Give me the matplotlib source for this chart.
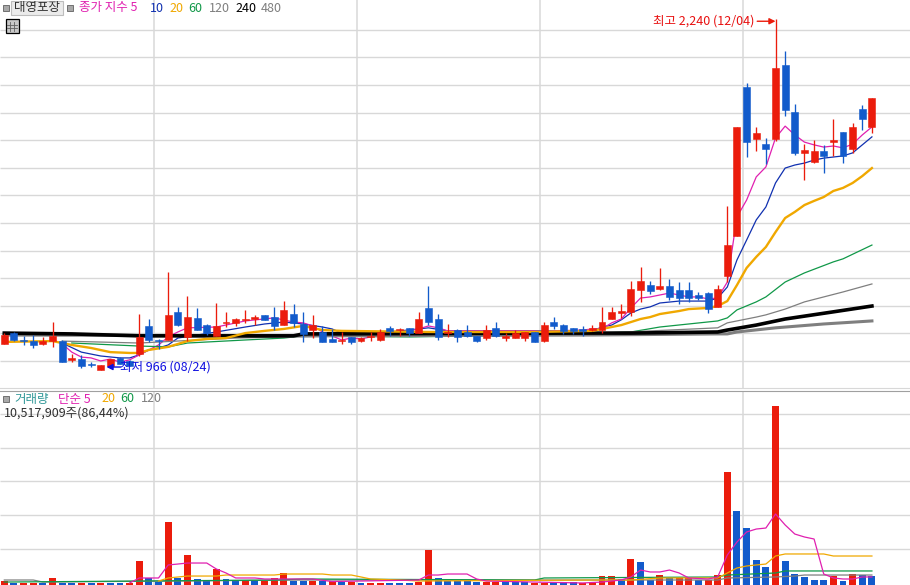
#!/usr/bin/env python3
import matplotlib
matplotlib.use('Agg')
import matplotlib.pyplot as plt
from matplotlib.lines import Line2D
from matplotlib.patches import Rectangle

W, H = 910, 585
plt.rcParams['font.family'] = ['Noto Sans CJK KR', 'DejaVu Sans']

RED = '#EB1C0C'
BLUE = '#125BCB'
GRID = '#D8D8D8'

# ── daily prices ─────────────────────────────────────────────────────────────
opens = [1062, 1101, 1076, 1072, 1062, 1072, 1072, 1004, 1007, 989, 966, 982, 1011, 1000, 1025,
         1127, 1076, 1076, 1178, 1087, 1156, 1130, 1091, 1138, 1138, 1149, 1152, 1167, 1159, 1130,
         1170, 1134, 1112, 1105, 1080, 1072, 1087, 1072, 1087, 1076, 1120, 1112, 1120, 1101, 1192,
         1152, 1101, 1112, 1105, 1091, 1083, 1120, 1083, 1083, 1083, 1105, 1072, 1141, 1130, 1120,
         1116, 1112, 1112, 1152, 1174, 1178, 1257, 1275, 1261, 1272, 1257, 1257, 1239, 1246, 1196,
         1308, 1453, 1993, 1804, 1786, 1804, 2072, 1902, 1754, 1721, 1761, 1793, 1830, 1768, 1913,
         1848]
highs = [1101, 1105, 1091, 1094, 1087, 1141, 1076, 1025, 1022, 996, 986, 1007, 1014, 1004, 1170,
         1152, 1080, 1322, 1196, 1236, 1192, 1134, 1210, 1178, 1156, 1185, 1167, 1167, 1196, 1217,
         1207, 1178, 1167, 1127, 1116, 1105, 1087, 1087, 1105, 1116, 1127, 1120, 1120, 1178, 1272,
         1170, 1134, 1116, 1130, 1091, 1130, 1141, 1101, 1112, 1105, 1105, 1141, 1159, 1134, 1120,
         1127, 1130, 1196, 1196, 1207, 1290, 1341, 1290, 1337, 1297, 1286, 1286, 1250, 1250, 1275,
         1562, 1848, 2007, 1848, 1808, 2240, 2123, 1931, 1786, 1801, 1783, 1877, 1830, 1862, 1928,
         1953]
lows = [1062, 1072, 1058, 1047, 1058, 1051, 996, 996, 975, 978, 966, 982, 989, 982, 1018,
        1069, 1043, 1076, 1127, 1072, 1112, 1094, 1091, 1123, 1127, 1138, 1130, 1149, 1112, 1130,
        1123, 1069, 1083, 1069, 1069, 1062, 1062, 1069, 1072, 1072, 1091, 1091, 1091, 1101, 1130,
        1076, 1087, 1069, 1087, 1069, 1076, 1087, 1072, 1083, 1072, 1069, 1069, 1116, 1098, 1098,
        1091, 1109, 1101, 1152, 1156, 1163, 1214, 1243, 1257, 1221, 1207, 1214, 1221, 1174, 1196,
        1286, 1453, 1739, 1761, 1714, 1797, 1888, 1746, 1656, 1717, 1681, 1743, 1717, 1754, 1837,
        1826]
closes = [1094, 1076, 1072, 1058, 1072, 1091, 996, 1011, 982, 986, 986, 1007, 989, 982, 1087,
          1076, 1072, 1167, 1130, 1159, 1112, 1101, 1127, 1141, 1152, 1152, 1159, 1149, 1127, 1185,
          1138, 1098, 1130, 1069, 1069, 1076, 1069, 1083, 1091, 1105, 1109, 1116, 1101, 1152, 1141,
          1087, 1105, 1087, 1091, 1072, 1112, 1091, 1091, 1101, 1105, 1069, 1130, 1127, 1109, 1109,
          1109, 1120, 1141, 1178, 1181, 1261, 1290, 1254, 1272, 1232, 1228, 1228, 1228, 1188, 1261,
          1420, 1848, 1793, 1826, 1768, 2062, 1909, 1754, 1764, 1761, 1743, 1801, 1743, 1848, 1877,
          1953]

# moving averages, read at the days where the line bends
ma5_x = [6, 7, 8, 9, 10, 11, 12, 13, 14, 15, 16, 17, 18, 19, 22, 25, 28, 30, 31, 32, 33, 35, 36,
         37, 38, 39, 40, 42, 43, 44, 45, 46, 55, 56, 57, 60, 61, 62, 63, 64, 65, 66, 67, 69, 70,
         71, 72, 73, 74, 75, 76, 77, 78, 79, 80, 81, 82, 83, 84, 85, 86, 87, 88, 89, 90]
ma5_y = [1062, 1032, 1014, 1011, 1000, 1007, 996, 1004, 1022, 1040, 1058, 1087, 1105, 1120, 1123,
         1145, 1156, 1141, 1138, 1127, 1105, 1076, 1083, 1080, 1087, 1094, 1101, 1109, 1116, 1127,
         1120, 1109, 1109, 1105, 1109, 1112, 1116, 1116, 1138, 1152, 1192, 1228, 1232, 1246, 1239,
         1232, 1232, 1225, 1228, 1286, 1522, 1583, 1667, 1703, 1808, 1851, 1819, 1793, 1783, 1775,
         1779, 1772, 1786, 1819, 1848]
ma10_x = [6, 8, 10, 12, 13, 14, 15, 16, 17, 18, 20, 22, 25, 27, 29, 31, 33, 34, 35, 40, 44, 46, 56,
          61, 62, 63, 64, 65, 66, 67, 68, 70, 73, 74, 75, 76, 77, 78, 79, 80, 81, 82, 83, 84, 85,
          86, 87, 88, 89, 90]
ma10_y = [1065, 1032, 1018, 1011, 1011, 1022, 1040, 1047, 1058, 1083, 1094, 1105, 1123, 1134, 1141,
          1134, 1123, 1116, 1101, 1105, 1120, 1109, 1109, 1109, 1123, 1130, 1149, 1174, 1188, 1196,
          1210, 1217, 1217, 1228, 1268, 1366, 1438, 1511, 1558, 1645, 1699, 1710, 1717, 1728, 1735,
          1739, 1743, 1754, 1783, 1812]
ma20_x = [0, 5, 7, 9, 11, 13, 14, 15, 17, 19, 21, 23, 25, 27, 29, 31, 33, 35, 44, 55, 61, 62, 64,
          65, 66, 67, 68, 70, 71, 73, 74, 75, 76, 77, 78, 79, 80, 81, 82, 83, 84, 85, 86, 87, 88,
          89, 90]
ma20_y = [1069, 1072, 1058, 1047, 1032, 1029, 1029, 1040, 1051, 1072, 1080, 1083, 1101, 1109, 1116,
          1127, 1112, 1109, 1105, 1105, 1109, 1116, 1130, 1141, 1152, 1159, 1170, 1181, 1188, 1192,
          1199, 1217, 1275, 1337, 1377, 1413, 1467, 1518, 1540, 1565, 1580, 1594, 1616, 1627, 1645,
          1670, 1699]
ma60_x = [7, 14, 17, 19, 25, 29, 31, 42, 55, 65, 68, 71, 74, 75, 76, 78, 79, 81, 83, 86, 87, 90]
ma60_y = [1065, 1054, 1051, 1065, 1076, 1083, 1091, 1087, 1094, 1105, 1123, 1134, 1145, 1156, 1185,
          1214, 1232, 1286, 1319, 1359, 1370, 1420]
ma120_x = [6, 14, 24, 29, 62, 74, 75, 78, 79, 81, 83, 87, 90]
ma120_y = [1072, 1065, 1083, 1087, 1101, 1120, 1138, 1159, 1167, 1188, 1214, 1250, 1279]
ma240_x = [0, 7, 14, 30, 31, 61, 65, 74, 75, 78, 81, 86, 90]
ma240_y = [1101, 1098, 1091, 1091, 1098, 1101, 1101, 1105, 1112, 1130, 1152, 1178, 1199]
ma480_x = [0, 31, 61, 74, 75, 76, 80, 85, 90]
ma480_y = [1094, 1091, 1094, 1098, 1098, 1105, 1120, 1134, 1145]

# ── daily volume, millions of shares ─────────────────────────────────────────
volumes = [4.7, 2.4, 2.7, 2.7, 2.7, 8.3, 2.4, 2.4, 2.4, 2.4, 2.4, 2.4, 2.4, 2.4, 28.4,
           8.3, 3.5, 74.5, 8.3, 35.5, 7.1, 4.7, 18.9, 7.1, 4.7, 4.7, 4.7, 4.7, 8.3, 14.2,
           4.7, 4.7, 4.7, 4.7, 4.7, 4.1, 4.1, 2.4, 2.4, 2.4, 2.4, 2.4, 2.4, 4.1, 41.4,
           8.3, 4.7, 4.7, 4.7, 3.5, 4.1, 4.1, 4.1, 4.1, 4.1, 2.4, 2.7, 4.1, 4.1, 4.1,
           2.4, 2.7, 10.6, 10.6, 7.1, 30.8, 27.2, 5.9, 11.8, 8.3, 8.3, 8.3, 5.9, 5.9, 11.8,
           133.7, 87.5, 67.4, 29.6, 21.3, 211.8, 28.4, 13.0, 9.5, 5.9, 5.9, 10.6, 4.7, 13.0, 11.8,
           10.5]
volume_up = [1, 0, 1, 1, 0, 1, 0, 0, 1, 0, 1, 0, 0, 1, 1,
             0, 0, 1, 0, 1, 0, 0, 1, 0, 0, 1, 0, 1, 1, 1,
             0, 0, 1, 0, 1, 0, 1, 0, 1, 1, 0, 0, 0, 1, 1,
             0, 0, 0, 0, 0, 1, 1, 0, 0, 0, 1, 1, 0, 0, 0,
             1, 1, 1, 1, 0, 1, 0, 0, 1, 0, 1, 1, 0, 1, 1,
             1, 0, 0, 0, 0, 1, 0, 0, 0, 0, 0, 1, 0, 1, 0,
             0]

vol5_x = [13, 14, 16, 17, 18, 19, 21, 22, 23, 24, 26, 27, 31, 32, 34, 43, 44, 45, 46, 48, 49, 50,
          55, 60, 62, 64, 65, 66, 67, 68, 69, 70, 71, 73, 74, 75, 76, 77, 78, 79, 80, 81, 82, 83,
          84, 85, 86, 87, 88, 89, 90]
vol5_y = [2.4, 8.3, 8.3, 23.7, 24.8, 26.0, 26.0, 18.9, 14.2, 8.3, 8.3, 7.1, 7.1, 7.1, 4.1, 5.9,
          11.8, 11.8, 13.0, 13.0, 7.1, 4.7, 3.5, 2.4, 3.5, 5.9, 9.5, 17.7, 15.4, 15.4, 17.7, 14.2,
          8.3, 7.1, 9.5, 35.5, 50.9, 62.7, 66.2, 67.4, 84.0, 71.0, 60.3, 56.8, 54.4, 13.0, 8.3,
          7.1, 7.1, 9.5, 9.5]
vol20_x = [16, 17, 19, 22, 23, 28, 29, 33, 34, 36, 37, 38, 41, 43, 61, 65, 68, 74, 75, 76, 77, 78,
           79, 80, 81, 85, 86, 90]
vol20_y = [4.7, 8.3, 10.6, 10.6, 11.8, 11.8, 13.0, 13.0, 11.8, 11.8, 9.5, 7.1, 5.9, 4.7, 5.9, 5.9,
           8.3, 8.3, 14.2, 20.1, 22.5, 23.7, 24.8, 34.3, 36.7, 36.7, 34.3, 34.3]
vol60_x = [0, 28, 31, 55, 56, 74, 75, 80, 81, 90]
vol60_y = [3.5, 5.9, 7.1, 5.9, 8.3, 9.5, 11.8, 14.2, 16.6, 16.6]
vol120_x = [0, 3, 4, 31, 74, 75, 80, 82, 83, 90]
vol120_y = [5.9, 5.9, 3.5, 5.9, 5.9, 8.3, 9.5, 10.6, 11.8, 11.8]

price_grid = [1000, 1100, 1200, 1300, 1400, 1500, 1600, 1700, 1800, 1900, 2000, 2100, 2200]
volume_grid = [42.6, 82.8, 123, 162, 202.3]
month_lines = [15.55, 36.6, 55.55, 76.6]

days = list(range(len(closes)))


def px(x, y):
    return x / W, 1 - y / H


def put(x, y, s, color, fs=9):
    fig.text(*px(x, y), s, color=color, fontsize=fs, ha='left', va='center')


def square(x, y, size=6, fc='#A8A8A8', ec='#707070'):
    fig.add_artist(Rectangle(px(x, y + size), size / W, size / H, facecolor=fc, edgecolor=ec,
                             linewidth=0.7, transform=fig.transFigure))


fig = plt.figure(figsize=(W / 100, H / 100), dpi=100, facecolor='white')
ax = fig.add_axes([0, 1 - 388 / H, 1, 388 / H])
vax = fig.add_axes([0, 0, 1, 194 / H])
for a in (ax, vax):
    a.set_xlim(-0.446, 93.95)
    a.axis('off')
    a.vlines(month_lines, 0, 1, transform=a.get_xaxis_transform(), color=GRID, lw=1.1, zorder=1)
ax.set_ylim(902, 2308)
vax.set_ylim(0, 229.5)

ax.hlines(price_grid, 0, 1, transform=ax.get_yaxis_transform(), color=GRID, lw=1.0, zorder=1)
vax.hlines(volume_grid, 0, 1, transform=vax.get_yaxis_transform(), color=GRID, lw=1.0, zorder=1)

# price panel: the short averages are hidden under the thick lines in the flat stretch
ax.plot(ma10_x, ma10_y, color='#1030B0', lw=0.9, zorder=2)
ax.plot(ma5_x, ma5_y, color='#E020B0', lw=0.9, zorder=2.1)
ax.plot(ma60_x, ma60_y, color='#109848', lw=0.9, zorder=2.2)
ax.plot(ma480_x, ma480_y, color='#7F7F7F', lw=2.2, zorder=2.3)
ax.plot(ma120_x, ma120_y, color='#7F7F7F', lw=0.9, zorder=2.4)
ax.plot(ma240_x, ma240_y, color='black', lw=2.6, zorder=2.5)
ax.plot(ma20_x, ma20_y, color='#F0A800', lw=1.7, zorder=2.6)

for i in days:
    col = RED if closes[i] >= opens[i] else BLUE
    ax.vlines(i, lows[i], highs[i], color=col, lw=0.95, zorder=3)
    ax.bar(i, abs(closes[i] - opens[i]), bottom=min(opens[i], closes[i]), width=0.72,
           color=col, edgecolor=col, linewidth=0.4, zorder=3.1)

ax.annotate('', xy=(80, 2231), xytext=(78.1, 2231),
            arrowprops=dict(arrowstyle='-|>', color=RED, lw=1.0, mutation_scale=9,
                            shrinkA=0, shrinkB=0), zorder=5)
ax.annotate('', xy=(10.6, 978), xytext=(12.1, 978),
            arrowprops=dict(arrowstyle='-|>', color='#1010E0', lw=1.0, mutation_scale=9,
                            shrinkA=0, shrinkB=0), zorder=5)

# volume panel
vax.bar(days, volumes, width=0.72, color=[RED if u else BLUE for u in volume_up], zorder=2)
vax.plot(vol120_x, vol120_y, color='#7F7F7F', lw=0.9, zorder=3)
vax.plot(vol60_x, vol60_y, color='#109848', lw=0.9, zorder=3.1)
vax.plot(vol20_x, vol20_y, color='#F0A800', lw=0.9, zorder=3.2)
vax.plot(vol5_x, vol5_y, color='#E020B0', lw=0.9, zorder=3.3)

# panel separator
fig.add_artist(Line2D([0, 1], [1 - 388 / H] * 2, color=GRID, lw=0.8))
fig.add_artist(Line2D([0, 1], [1 - 390.5 / H] * 2, color='#A0A0A0', lw=0.8))

# header
square(3, 5)
fig.add_artist(Rectangle(px(11, 15), 52 / W, 14 / H, facecolor='#EBEBEB', edgecolor='#BDBDBD',
                         linewidth=0.8, transform=fig.transFigure))
put(14, 8, '대영포장', '#303030')
square(67, 5)
put(79, 8, '종가 지수 5', '#E020B0')
put(150, 8, '10', '#1030B0')
put(169, 8, '20', '#F0A800')
put(188, 8, '60', '#109848')
put(209, 8, '120', '#7F7F7F')
put(235, 8, '240', 'black')
put(261, 8, '480', '#7F7F7F')

# table icon
fig.add_artist(Rectangle(px(5.5, 32.5), 13 / W, 13 / H, facecolor='#C8C8C8', edgecolor='black',
                         linewidth=0.9, transform=fig.transFigure))
for gx in (9.5, 13.5):
    fig.add_artist(Line2D([gx / W, gx / W], [1 - 22 / H, 1 - 31 / H], color='#606060', lw=0.6))
for gy in (25, 28):
    fig.add_artist(Line2D([7 / W, 17 / W], [1 - gy / H, 1 - gy / H], color='#606060', lw=0.6))

put(653, 21, '최고 2,240 (12/04)', '#E81010')
put(120, 367, '최저 966 (08/24)', '#1010E0')

square(3, 396)
put(14, 399, '거래량', '#309898')
put(58, 399, '단순 5', '#E020B0')
put(101, 399, '20', '#F0A800')
put(120, 399, '60', '#109848')
put(141, 399, '120', '#7F7F7F')
put(4, 413, '10,517,909주(86,44%)', '#303030')

fig.savefig('out.png', dpi=100)
